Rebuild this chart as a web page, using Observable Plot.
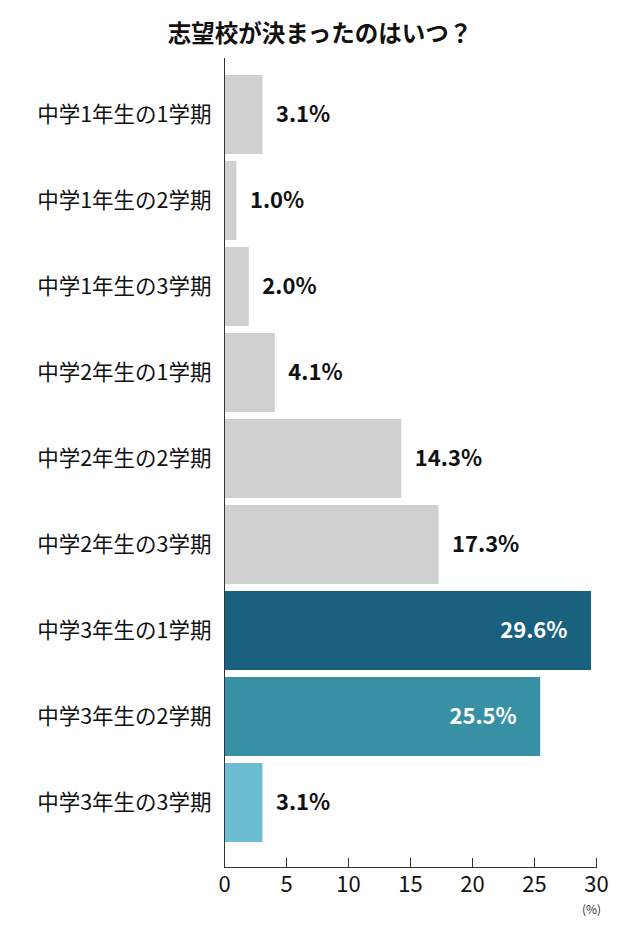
<!DOCTYPE html>
<html><head><meta charset="utf-8">
<script src="https://cdn.jsdelivr.net/npm/d3@7"></script>
<script src="https://cdn.jsdelivr.net/npm/@observablehq/plot@0.6"></script>
<style>
body{margin:0;background:#fff;font-family:"Noto Sans CJK JP","Noto Sans",sans-serif;}
#title{height:50px;line-height:64px;text-align:center;font-size:23.5px;font-weight:700;color:#111;}
</style></head>
<body>
<div id="title">志望校が決まったのはいつ？</div>
<div id="chart"></div>
<script>
const categories = ["中学1年生の1学期","中学1年生の2学期","中学1年生の3学期","中学2年生の1学期","中学2年生の2学期","中学2年生の3学期","中学3年生の1学期","中学3年生の2学期","中学3年生の3学期"];
const values = [3.1, 1.0, 2.0, 4.1, 14.3, 17.3, 29.6, 25.5, 3.1];
const colors = ["#d0d0d0","#d0d0d0","#d0d0d0","#d0d0d0","#d0d0d0","#d0d0d0","#19617f","#3890a4","#6dbdd2"];
const insideLabel = [false,false,false,false,false,false,true,true,false];
const xTicks = [0,5,10,15,20,25,30];

const data = categories.map((c,i)=>({cat:c, v:values[i], color:colors[i], inside:insideLabel[i], label:values[i].toFixed(1)+"%"}));

const W = 640, H = 879;
const chart = Plot.plot({
  width: W, height: H,
  marginLeft: 224, marginRight: 44, marginTop: 8, marginBottom: 62,
  style: {fontFamily: '"Noto Sans CJK JP","Noto Sans",sans-serif', background: "#fff", color: "#111"},
  x: {domain: [0,30], ticks: xTicks, label: null},
  y: {domain: categories, paddingInner: 0.076, paddingOuter: 0.209, align: 0.414, label: null},
  marks: [
    Plot.barX(data, {x: "v", y: "cat", fill: d => d.color}),
    Plot.text(data.filter(d=>!d.inside), {x: "v", y: "cat", text: "label", textAnchor: "start", dx: 13, fontSize: 22, fontWeight: 700, fill: "#111"}),
    Plot.text(data.filter(d=>d.inside), {x: "v", y: "cat", text: "label", textAnchor: "end", dx: -24, fontSize: 22, fontWeight: 700, fill: "#fff"}),
    Plot.frame({anchor: "left", stroke: "#333", strokeWidth: 1}),
    Plot.frame({anchor: "bottom", stroke: "#333", strokeWidth: 1}),
    Plot.axisY({tickSize: 0, tickPadding: 13, fontSize: 21.5, fontWeight: 400, label: null}),
    Plot.axisX({ticks: xTicks, tickSize: -9, tickPadding: 18, fontSize: 22, label: null, stroke: "#333"}),
    Plot.text(["(%)"], {frameAnchor: "bottom-right", dx: -5, dy: 46, fontSize: 12, fill: "#333", textAnchor: "middle"})
  ]
});
document.getElementById("chart").appendChild(chart);
</script>
</body></html>
